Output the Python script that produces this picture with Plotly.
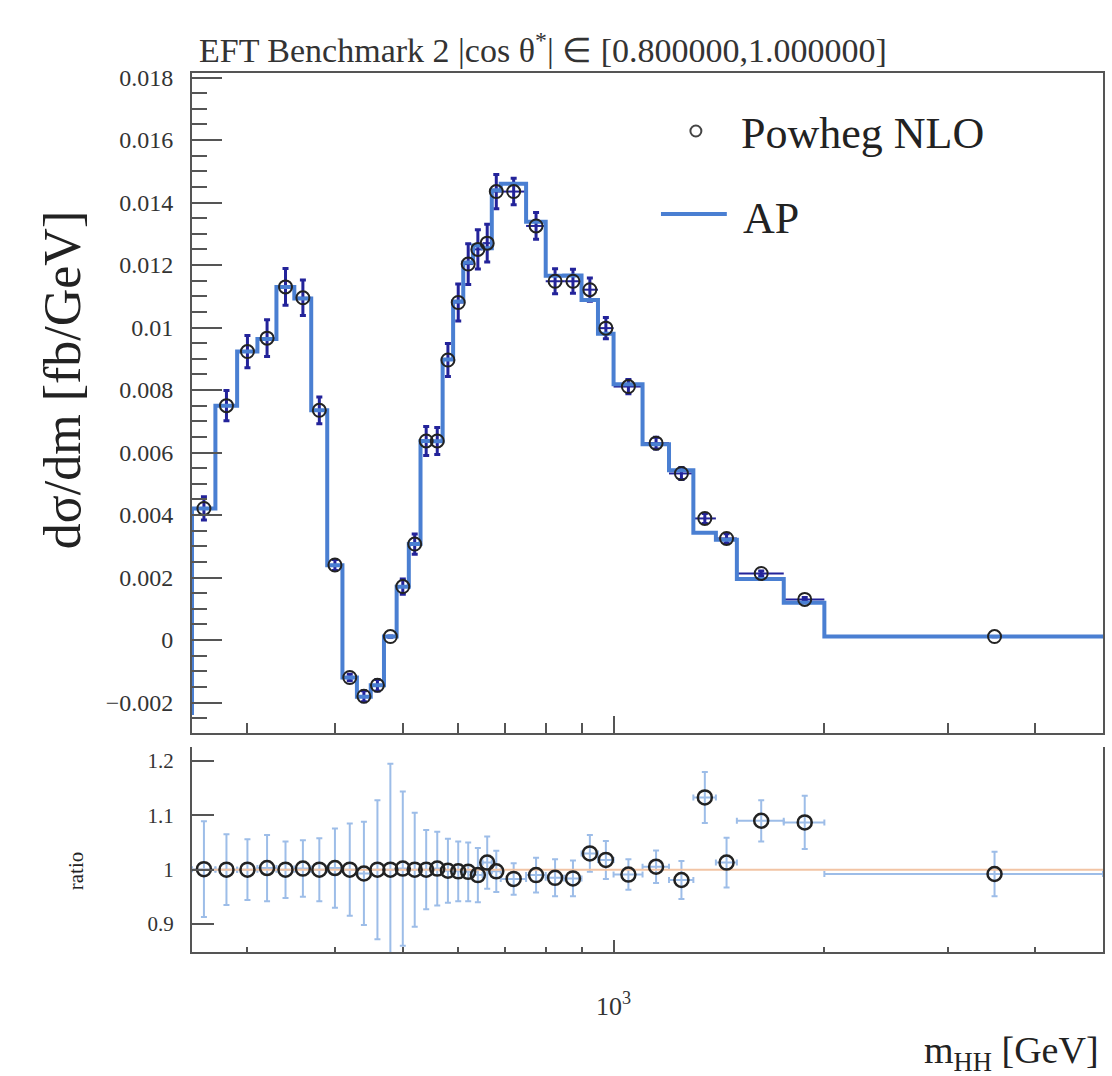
import plotly.graph_objects as go

# m_HH binning [GeV]
bin_edges = [250, 270, 290, 310, 330, 350, 370, 390, 410, 430, 450, 470, 490,
             510, 530, 550, 570, 590, 610, 630, 650, 670, 690, 750, 800, 850,
             900, 950, 1000, 1100, 1200, 1300, 1400, 1500, 1750, 2000, 5000]

# Powheg NLO dsigma/dm per bin [fb/GeV]
powheg = [0.00421, 0.00750, 0.00923, 0.00966, 0.01130, 0.01095, 0.00735, 0.00240,
          -0.00120, -0.00180, -0.00145, 0.00011, 0.00171, 0.00307, 0.00637, 0.00637,
          0.00896, 0.01080, 0.01203, 0.01250, 0.01270, 0.01435, 0.01435, 0.01325,
          0.01148, 0.01148, 0.01121, 0.00998, 0.00811, 0.00630, 0.00533, 0.00389,
          0.00325, 0.00213, 0.00130, 0.00011]

# Powheg / AP ratio and its uncertainty
ratio = [1.001, 1.000, 1.000, 1.003, 1.000, 1.002, 1.000, 1.003, 1.000, 0.993,
         1.000, 1.000, 1.002, 1.000, 1.000, 1.002, 0.998, 0.997, 0.996, 0.990,
         1.013, 0.997, 0.983, 0.990, 0.985, 0.984, 1.030, 1.018, 0.991, 1.0055,
         0.981, 1.133, 1.013, 1.090, 1.087, 0.992]
ratio_err = [0.088, 0.065, 0.056, 0.061, 0.052, 0.052, 0.058, 0.073, 0.085, 0.095,
             0.128, 0.195, 0.142, 0.105, 0.073, 0.068, 0.059, 0.055, 0.054, 0.050,
             0.048, 0.038, 0.029, 0.032, 0.034, 0.033, 0.034, 0.035, 0.028, 0.030,
             0.035, 0.047, 0.046, 0.038, 0.049, 0.041]

hist_floor = -0.0024  # lower end of the step outline at the first edge

centers = [(lo + hi) / 2 for lo, hi in zip(bin_edges[:-1], bin_edges[1:])]
half_w = [(hi - lo) / 2 for lo, hi in zip(bin_edges[:-1], bin_edges[1:])]
ap = [p / r for p, r in zip(powheg, ratio)]
powheg_err = [abs(p) * e / r for p, e, r in zip(powheg, ratio_err, ratio)]

AP_BLUE = "#4a7fd2"
NAVY = "#23239a"
LIGHT_BLUE = "#9dbde8"
PEACH = "#f2c4a4"
AXIS = "#555555"
TEXT = "#222222"
FONT = "Liberation Serif"

fig = go.Figure()

# upper panel: Powheg uncertainties, AP step histogram, Powheg markers
fig.add_trace(go.Scatter(
    x=centers, y=powheg, mode="markers",
    marker=dict(size=1, color="rgba(0,0,0,0)"),
    error_y=dict(type="data", array=powheg_err, color=NAVY, thickness=3, width=3),
    error_x=dict(type="data", array=half_w, color=NAVY, thickness=2, width=0),
    xaxis="x", yaxis="y", hoverinfo="skip"))
fig.add_trace(go.Scatter(
    x=[bin_edges[0]] + bin_edges, y=[hist_floor] + ap + [ap[-1]],
    mode="lines", line=dict(color=AP_BLUE, width=4, shape="hv"),
    xaxis="x", yaxis="y", name="AP"))
fig.add_trace(go.Scatter(
    x=centers, y=powheg, mode="markers",
    marker=dict(symbol="circle-open", size=13, color=TEXT, line=dict(width=2)),
    xaxis="x", yaxis="y", name="Powheg NLO"))

# lower panel: ratio
fig.add_trace(go.Scatter(
    x=centers, y=ratio, mode="markers",
    marker=dict(size=1, color="rgba(0,0,0,0)"),
    error_y=dict(type="data", array=ratio_err, color=LIGHT_BLUE, thickness=2, width=3),
    error_x=dict(type="data", array=half_w, color=LIGHT_BLUE, thickness=2, width=3),
    xaxis="x2", yaxis="y2", hoverinfo="skip"))
fig.add_trace(go.Scatter(
    x=[bin_edges[0], bin_edges[-1]], y=[1, 1], mode="lines",
    line=dict(color=PEACH, width=2), xaxis="x2", yaxis="y2"))
fig.add_trace(go.Scatter(
    x=centers, y=ratio, mode="markers",
    marker=dict(symbol="circle-open", size=14, color=TEXT, line=dict(width=2.5)),
    xaxis="x2", yaxis="y2"))

W, H = 1112, 1076
L, R, T, B = 192, 7, 73, 124
pw, ph = W - L - R, H - T - B


def px(x):
    return (x - L) / pw


def py(y):
    return (H - B - y) / ph


minor_x = [300, 400, 500, 600, 700, 800, 900, 2000, 3000, 4000]
xrange_log = [2.39794, 3.69897]

fig.update_layout(
    width=W, height=H, margin=dict(l=L, r=R, t=T, b=B),
    paper_bgcolor="white", plot_bgcolor="white", showlegend=False,
    font=dict(family=FONT, color=TEXT),
    xaxis=dict(type="log", range=xrange_log, domain=[0, 1], anchor="y",
               showticklabels=False, showgrid=False, zeroline=False,
               showline=True, mirror=True, linecolor=AXIS, linewidth=2,
               tickmode="array", tickvals=[1000], ticks="inside", ticklen=17,
               tickwidth=1.5, tickcolor=AXIS,
               minor=dict(tickmode="array", tickvals=minor_x, ticks="inside",
                          ticklen=10, tickwidth=1.5, tickcolor=AXIS)),
    yaxis=dict(domain=[py(733), 1], anchor="x", range=[-0.002976, 0.018144],
               tickmode="linear", tick0=0, dtick=0.002, ticks="inside",
               ticklen=30, tickwidth=1.5, tickcolor=AXIS,
               minor=dict(dtick=0.0005, tick0=0, ticks="inside", ticklen=15,
                          tickwidth=1.5, tickcolor=AXIS),
               showgrid=False, zeroline=False, showline=True, mirror=True,
               linecolor=AXIS, linewidth=2, tickfont=dict(size=24, color="#333"),
               ticklabelstandoff=12),
    xaxis2=dict(type="log", range=xrange_log, domain=[0, 1], anchor="y2",
                showgrid=False, zeroline=False, showline=True, mirror=False,
                linecolor=AXIS, linewidth=2,
                tickmode="array", tickvals=[1000], ticktext=["10<sup>3</sup>"],
                ticks="inside", ticklen=12, tickwidth=1.5, tickcolor=AXIS,
                tickfont=dict(size=26, color="#333"), ticklabelstandoff=30,
                minor=dict(tickmode="array", tickvals=minor_x, ticks="inside",
                           ticklen=5, tickwidth=1.5, tickcolor=AXIS)),
    yaxis2=dict(domain=[0, py(747)], anchor="x2", range=[0.8485, 1.2258],
                tickmode="linear", tick0=0, dtick=0.1, ticks="inside",
                ticklen=22, tickwidth=1.5, tickcolor=AXIS,
                showgrid=False, zeroline=False, showline=True, mirror=True,
                linecolor=AXIS, linewidth=2, tickfont=dict(size=21, color="#333"),
                ticklabelstandoff=12),
)

annotations = [
    dict(text="EFT Benchmark 2 |cos θ<sup>*</sup>| ∈ [0.800000,1.000000]",
         x=px(197), y=py(48), xanchor="left", yanchor="middle",
         font=dict(size=34, color="#333")),
    dict(text="dσ/dm [fb/GeV]", x=px(62), y=py(380), textangle=-90,
         xanchor="center", yanchor="middle", font=dict(size=52)),
    dict(text="ratio", x=px(76), y=py(871), textangle=-90,
         xanchor="center", yanchor="middle", font=dict(size=21)),
    dict(text="m<sub>HH</sub> [GeV]", x=px(1103), y=py(1053),
         xanchor="right", yanchor="middle", font=dict(size=38)),
    dict(text="Powheg NLO", x=px(740), y=py(133), xanchor="left",
         yanchor="middle", font=dict(size=44)),
    dict(text="AP", x=px(742), y=py(218), xanchor="left",
         yanchor="middle", font=dict(size=44)),
]
for a in annotations:
    a.update(xref="paper", yref="paper", showarrow=False)
fig.update_layout(annotations=annotations)

# legend glyphs
fig.add_shape(type="line", xref="paper", yref="paper",
              x0=px(662), x1=px(728), y0=py(214), y1=py(214),
              line=dict(color=AP_BLUE, width=4))
fig.add_shape(type="circle", xref="paper", yref="paper",
              x0=px(691.5), x1=px(702.5), y0=py(136.5), y1=py(125.5),
              line=dict(color="#444", width=2))

fig.write_html("out.html")
